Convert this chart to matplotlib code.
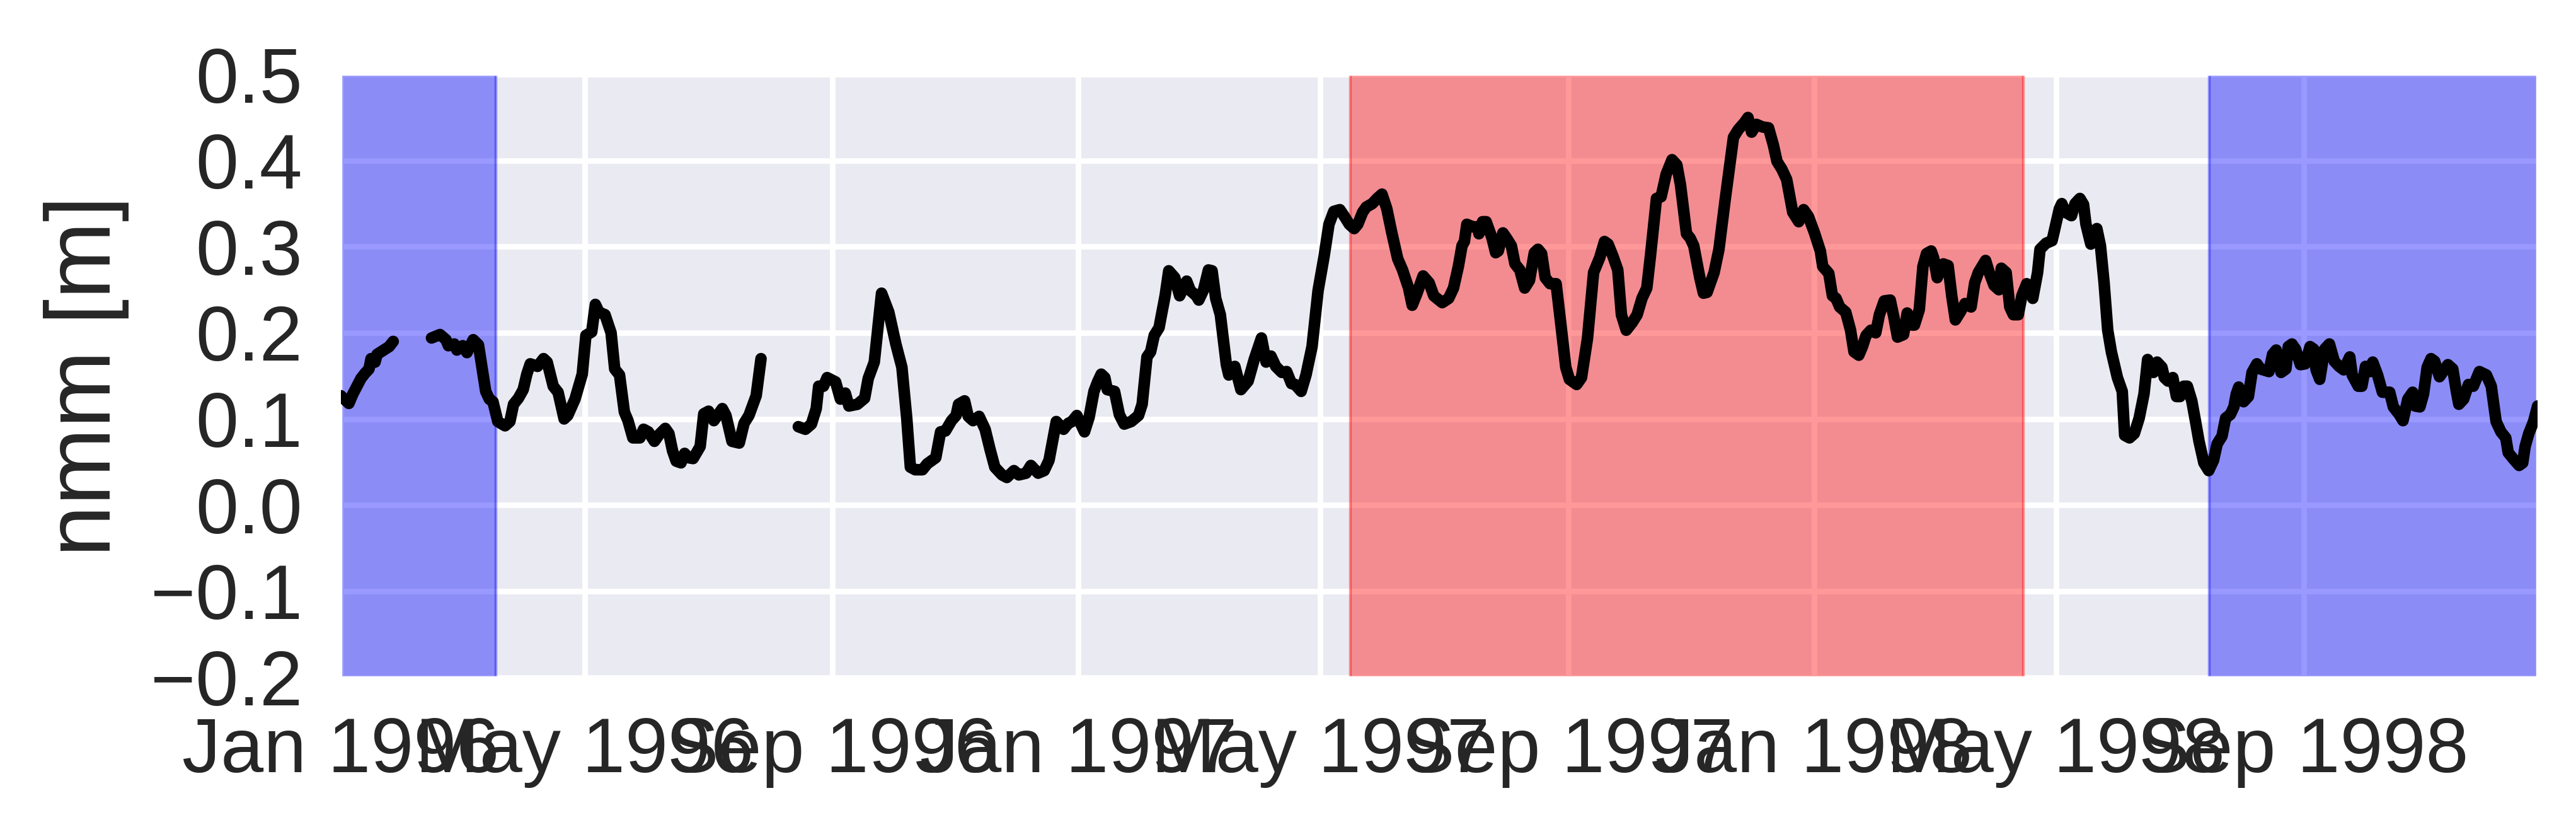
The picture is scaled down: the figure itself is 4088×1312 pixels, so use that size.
"""
plot.py
nmm time series 1996-1998 with shaded periods
"""

import numpy as np
import pandas as pd
import matplotlib
matplotlib.use('Agg')
import matplotlib.pyplot as plt
import matplotlib.dates as mdates
import seaborn as sns

START = '1996-01-01'

DAY = [
    0, 4, 6, 8, 10, 12, 14, 15, 17, 18, 22, 24, 26,
    35,
    45.0, 49.2, 52.2, 53.4, 56.3, 57.6, 60.5, 62.6, 65.7, 68.3, 71.9, 73.7, 75.5, 77.9, 81.5, 83.9,
    85.7, 88.1, 90.5, 92.3, 94.0, 97.6, 100.6, 102.4, 105.4, 107.8, 110.8, 112.6, 116.2, 119.8,
    121.6, 124.5, 126.3, 128.1, 131.1, 134.1, 135.9, 138.3, 140.7, 142.5, 144.9, 148.4, 150.2,
    152.6, 155.6, 158.0, 161.0, 162.8, 164.6, 166.4, 168.8, 170.6, 172.4, 174.8, 178.3, 180.1,
    182.5, 185.1, 189.3, 191.1, 194.1, 197.7, 200.1, 202.5, 206.1, 208.5,
    218,
    227.0, 230.5, 233.5, 235.9, 237.1, 239.5, 241.3, 245.5, 247.9, 250.3, 252.1, 256.3, 259.9,
    261.7, 264.7, 268.3, 271.9, 275.4, 278.4, 280.8, 282.6, 285.0, 288.6, 291.0, 295.2, 297.6,
    300.0, 303.0, 305.3, 306.5, 309.5, 311.3, 313.7, 316.7, 319.7, 322.1, 324.5, 328.1, 330.5,
    334.0, 336.4, 340.0, 342.4, 346.0, 349.0, 351.4, 355.0, 358.6, 361.0, 362.8, 365.2,
    369.0, 371.3, 373.7, 375.5, 377.3, 379.1, 380.3, 383.9, 386.3, 388.7, 392.2, 395.8, 397.6,
    400.0, 401.8, 403.6, 406.0, 407.2, 409.0, 410.8, 413.8, 416.2, 419.7, 421.5, 424.5, 425.7,
    428.1, 430.5, 432.3, 434.1, 436.4, 439.4, 440.6, 443.6, 446.6, 450.2, 453.2, 456.8, 459.1,
    461.5, 463.9, 466.9, 469.3, 471.7, 473.5, 476.5, 478.9, 481.9, 484.9, 487.9, 490.3, 492.7,
    495.7, 498.0, 500.4, 502.8, 504.6, 507.0, 508.8, 511.8, 514.2, 516.6, 519.0, 521.4, 524.4,
    526.8, 529.8, 531.6, 534.0, 537.0, 540.0, 542.3, 546.5,
    549.7, 552.1, 554.5, 556.3, 557.5, 558.7, 561.7, 564.1, 564.7, 566.5, 568.3, 571.2, 573.0,
    574.3, 576.6, 578.4, 580.8, 582.6, 585.0, 587.4, 589.8, 592.2, 594.0, 595.8, 597.6, 600.0,
    603.0, 605.4, 607.8, 609.6, 613.2, 615.6, 618.6, 621.6, 624.6, 627.0, 628.8, 631.2, 633.6,
    635.4, 637.8, 640.8, 643.2, 645.6, 648.0, 649.8, 651.6, 652.8, 655.1, 657.6, 660.5, 662.9,
    664.7, 667.7, 669.5, 671.3, 674.3, 676.1, 677.9, 681.4, 683.8, 686.8, 689.8, 691.0, 693.4,
    696.4, 698.2, 700.0, 702.4, 705.4, 708.4, 710.8, 712.6, 715.0, 717.4, 720.4, 723.4, 725.8,
    728.2, 731.2,
    734.1, 735.3, 738.3, 740.1, 741.9, 743.7, 746.7, 749.1, 750.8, 753.2, 755.0, 756.8, 759.2,
    761.6, 763.4, 765.8, 768.8, 770.6, 772.4, 775.4, 777.2, 779.6, 780.8, 783.2, 785.0, 786.8,
    789.1, 790.3, 792.1, 795.1, 797.5, 799.3, 801.1, 803.5, 805.9, 808.9, 810.7, 812.5, 816.1,
    817.9, 820.3, 822.7, 823.9, 826.3, 828.1, 829.9, 832.3, 834.1, 836.5, 838.3, 839.5, 841.9,
    843.1, 846.1, 849.1, 852.7, 853.9, 855.7, 858.7, 860.5, 862.9, 864.7, 865.9, 868.3, 870.1,
    871.3, 873.1, 874.9, 876.7, 878.5, 881.5, 883.9, 885.1, 887.5, 889.9, 892.3, 894.7, 896.5,
    897.7, 899.4, 901.2, 903.6, 904.8, 906.6, 909.0, 910.8, 912.6, 914.4, 916.2,
    918.4, 920.2, 922.0, 924.4, 926.8, 929.2, 931.0, 933.4, 935.2, 937.5, 939.3, 940.5, 941.7,
    944.1, 946.5, 948.3, 950.7, 952.5, 956.7, 958.5, 960.3, 962.7, 965.1, 966.3, 968.1, 969.9,
    972.3, 974.7, 977.1, 978.9, 980.1, 981.9, 984.3, 986.7, 989.1, 991.5, 993.8, 996.8, 998.0,
    1001.0, 1002.8, 1004.6, 1007.0, 1008.2, 1010.6, 1013.0, 1016.6, 1018.4, 1021.4, 1023.2,
    1025.6, 1028.0, 1029.2, 1031.6, 1033.4, 1035.2, 1037.1, 1038.9, 1041.3, 1045.5, 1047.9,
    1049.7, 1050.9, 1053.3, 1055.7, 1058.1, 1061.1, 1064.6, 1067.0, 1069.4, 1071.8, 1074.2,
    1075.4, 1077.8, 1080.8, 1082.6, 1083.8, 1085.6, 1088.0, 1090.0,
]

NMM = [
    0.127, 0.118, 0.129, 0.138, 0.147, 0.153, 0.158, 0.170, 0.166, 0.175, 0.181, 0.184, 0.190,
    np.nan,
    0.194, 0.198, 0.192, 0.185, 0.187, 0.180, 0.185, 0.177, 0.192, 0.186, 0.132, 0.123, 0.120, 0.097, 0.092, 0.097,
    0.117, 0.124, 0.134, 0.152, 0.164, 0.161, 0.170, 0.166, 0.138, 0.131, 0.100, 0.104, 0.123, 0.152,
    0.197, 0.201, 0.233, 0.224, 0.221, 0.200, 0.158, 0.151, 0.108, 0.098, 0.078, 0.078, 0.088,
    0.085, 0.074, 0.082, 0.089, 0.083, 0.063, 0.051, 0.049, 0.060, 0.055, 0.054, 0.068, 0.106,
    0.109, 0.098, 0.112, 0.104, 0.074, 0.072, 0.095, 0.104, 0.127, 0.170,
    np.nan,
    0.091, 0.088, 0.094, 0.112, 0.138, 0.138, 0.148, 0.143, 0.123, 0.130, 0.115, 0.117, 0.124,
    0.147, 0.166, 0.246, 0.224, 0.187, 0.160, 0.101, 0.044, 0.041, 0.041, 0.048, 0.055, 0.085,
    0.086, 0.098, 0.104, 0.117, 0.121, 0.103, 0.098, 0.103, 0.088, 0.065, 0.044, 0.035, 0.032,
    0.040, 0.035, 0.037, 0.046, 0.037, 0.040, 0.052, 0.097, 0.088, 0.095, 0.097, 0.104,
    0.085, 0.102, 0.132, 0.143, 0.152, 0.148, 0.134, 0.132, 0.105, 0.094, 0.097, 0.104, 0.117,
    0.172, 0.178, 0.197, 0.206, 0.221, 0.243, 0.272, 0.264, 0.243, 0.260, 0.249, 0.243, 0.238,
    0.250, 0.273, 0.272, 0.240, 0.221, 0.163, 0.151, 0.161, 0.134, 0.144, 0.169, 0.194, 0.166,
    0.173, 0.161, 0.154, 0.155, 0.141, 0.140, 0.132, 0.151, 0.184, 0.249, 0.289, 0.326, 0.341,
    0.343, 0.335, 0.326, 0.321, 0.326, 0.340, 0.346, 0.350, 0.356, 0.361, 0.344, 0.317, 0.286,
    0.273, 0.252, 0.232, 0.246, 0.266, 0.258, 0.243, 0.235,
    0.240, 0.252, 0.277, 0.301, 0.306, 0.326, 0.323, 0.323, 0.315, 0.329, 0.329, 0.310, 0.293,
    0.295, 0.316, 0.310, 0.301, 0.280, 0.273, 0.252, 0.261, 0.293, 0.297, 0.292, 0.264, 0.257,
    0.257, 0.209, 0.160, 0.146, 0.140, 0.148, 0.194, 0.270, 0.287, 0.306, 0.303, 0.289, 0.273,
    0.221, 0.203, 0.212, 0.221, 0.240, 0.252, 0.289, 0.329, 0.356, 0.358, 0.384, 0.401, 0.395,
    0.372, 0.315, 0.310, 0.301, 0.264, 0.246, 0.247, 0.270, 0.297, 0.353, 0.406, 0.427, 0.436,
    0.444, 0.450, 0.433, 0.442, 0.439, 0.438, 0.418, 0.399, 0.390, 0.378, 0.340, 0.329, 0.343,
    0.335, 0.316,
    0.295, 0.277, 0.269, 0.243, 0.240, 0.230, 0.224, 0.203, 0.178, 0.174, 0.184, 0.197, 0.203,
    0.200, 0.221, 0.237, 0.238, 0.218, 0.195, 0.198, 0.223, 0.209, 0.209, 0.227, 0.277, 0.292,
    0.295, 0.287, 0.264, 0.280, 0.278, 0.243, 0.215, 0.224, 0.234, 0.230, 0.258, 0.270, 0.284,
    0.270, 0.255, 0.250, 0.275, 0.270, 0.230, 0.221, 0.221, 0.243, 0.257, 0.252, 0.240, 0.270,
    0.297, 0.304, 0.307, 0.344, 0.350, 0.340, 0.336, 0.350, 0.356, 0.349, 0.326, 0.303, 0.310,
    0.321, 0.301, 0.258, 0.203, 0.178, 0.148, 0.132, 0.081, 0.078, 0.083, 0.101, 0.129, 0.169,
    0.160, 0.154, 0.166, 0.160, 0.148, 0.144, 0.148, 0.126, 0.126, 0.138, 0.138,
    0.121, 0.098, 0.074, 0.049, 0.040, 0.052, 0.071, 0.080, 0.101, 0.105, 0.114, 0.129, 0.137,
    0.120, 0.126, 0.154, 0.164, 0.158, 0.155, 0.175, 0.180, 0.154, 0.158, 0.184, 0.187, 0.181,
    0.163, 0.164, 0.184, 0.181, 0.157, 0.146, 0.181, 0.187, 0.167, 0.161, 0.157, 0.172, 0.151,
    0.138, 0.138, 0.161, 0.155, 0.166, 0.151, 0.131, 0.131, 0.114, 0.105, 0.098,
    0.123, 0.131, 0.115, 0.114, 0.129, 0.160, 0.170, 0.167, 0.149, 0.163, 0.158,
    0.132, 0.117, 0.123, 0.140, 0.138, 0.155, 0.151, 0.138, 0.097, 0.085, 0.078,
    0.061, 0.054, 0.046, 0.049, 0.068, 0.083, 0.097, 0.115,
]

## shaded periods
BLUE_SPANS = [('1995-12-31', '1996-03-18'), ('1998-07-16', '1999-01-01')]
RED_SPANS = [('1997-05-16', '1998-04-15')]


def plot_nmm():
    '''
    plot nmm series
    '''
    sns.set_style('darkgrid')
    plt.rcParams['font.family'] = ['Liberation Sans', 'DejaVu Sans']

    t_list = pd.Timestamp(START) + pd.to_timedelta(DAY, unit='D')

    fig = plt.figure(figsize=(4088 / 400, 1312 / 400), dpi=400)
    ax = fig.add_axes([0.1323, 0.181, 0.8528, 0.729])

    ax.plot(t_list, NMM, color='k', lw=3.3, zorder=3)

    for t0, t1 in BLUE_SPANS:
        ax.axvspan(pd.Timestamp(t0), pd.Timestamp(t1), color='b', alpha=0.4, lw=0.8)
    for t0, t1 in RED_SPANS:
        ax.axvspan(pd.Timestamp(t0), pd.Timestamp(t1), color='r', alpha=0.4, lw=0.8)

    ax.set_xlim(t_list[0], t_list[-1])
    ax.set_ylim(-0.2, 0.5)
    ax.set_yticks(np.arange(-0.2, 0.51, 0.1))
    ax.xaxis.set_major_locator(mdates.MonthLocator(bymonth=[1, 5, 9]))
    ax.xaxis.set_major_formatter(mdates.DateFormatter('%b %Y'))
    ax.tick_params(labelsize=22, pad=11, length=0, colors='.15')
    ax.grid(True, color='white', lw=1.6)
    ax.set_ylabel('nmm [m]', fontsize=26.5, color='.15', labelpad=6)

    fig.savefig('out.png', dpi=400)


if __name__ == '__main__':
    plot_nmm()
